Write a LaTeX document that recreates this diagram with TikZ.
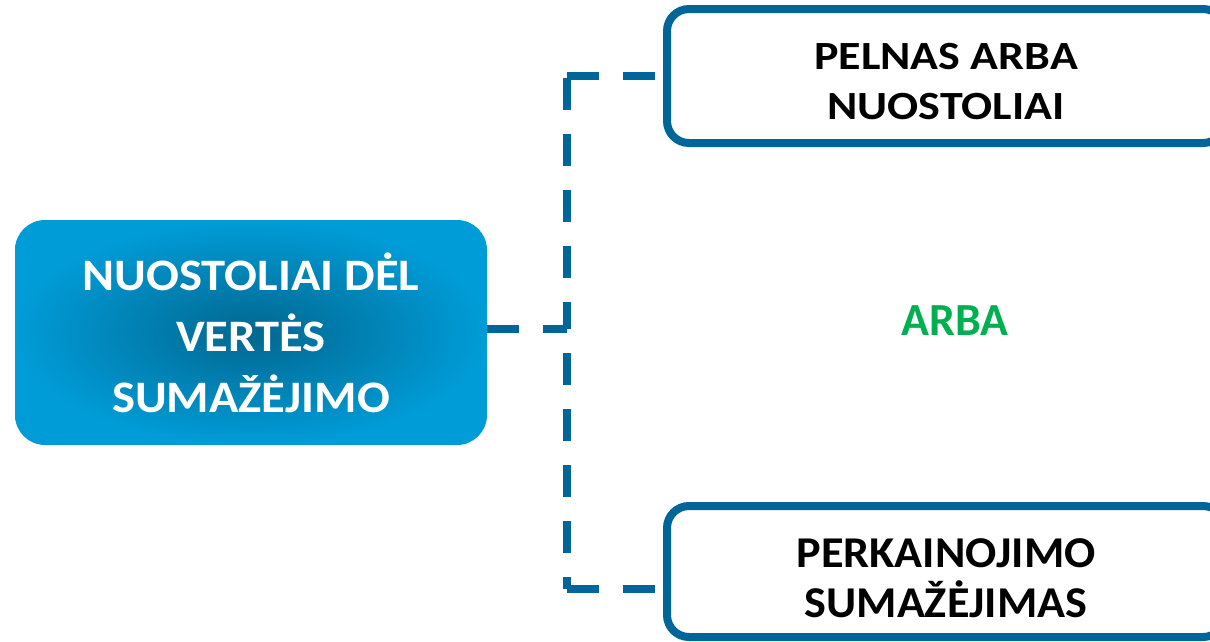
\documentclass[tikz,border=0pt]{standalone}
\usepackage{fontspec}
\setmainfont{Carlito}
\newfontfamily\fontA[FakeStretch=1.15]{Carlito}
\newfontfamily\fontB[FakeStretch=1.05]{Carlito}
\newfontfamily\fontC[FakeStretch=1.08]{Carlito}
\definecolor{connblue}{HTML}{006699}
\definecolor{boxdark}{HTML}{02678F}
\definecolor{boxlight}{HTML}{009CD8}
\definecolor{arbagreen}{HTML}{00B050}
\begin{document}
\begin{tikzpicture}[x=1pt,y=-1pt,
  conn/.style={draw=connblue, line width=8pt, dash pattern=on 32pt off 24pt},
  mainbox/.style={rectangle, rounded corners=30pt, minimum width=472pt, minimum height=225pt,
    inner color=boxdark, outer color=boxlight, text=white, align=center, inner sep=0pt,
    font=\fontC\fontsize{45}{61}\selectfont\bfseries},
  outbox/.style={rectangle, rounded corners=22pt, draw=connblue, line width=8pt, fill=white,
    align=center, inner sep=0pt, minimum width=558pt},
  orlabel/.style={text=arbagreen, font=\fontsize{46}{50}\selectfont\bfseries, inner sep=0pt}
]
\clip (0,0) rectangle (1210,641);
\useasboundingbox (0,0) rectangle (1210,641);

\node[mainbox] (L) at (251,332.5) {NUOSTOLIAI DĖL\\VERTĖS\\SUMAŽĖJIMO};
\node[outbox, minimum height=134pt, font=\fontA\fontsize{40}{50}\selectfont\bfseries] (T) at (946,76)
  {\rule{0pt}{38pt}PELNAS ARBA\\NUOSTOLIAI};
\node[outbox, minimum height=131pt, font=\fontB\fontsize{44}{50}\selectfont\bfseries] (B) at (946,571.5)
  {\rule{0pt}{42.5pt}PERKAINOJIMO\\SUMAŽĖJIMAS};
\node[orlabel, anchor=base] (O) at (955,335) {ARBA};

\coordinate (J) at (567,329);
\coordinate (Jb) at (567,589);

\draw[conn] (L.east |- J) -- (J);
\draw[conn, dash phase=5pt] (J) -- (J |- T.west);
\draw[conn] (J |- T.west) -- (T.west);
\draw[conn, dash phase=32pt] (J) -- (Jb);
\draw[conn] (Jb) -- (Jb -| B.west);
\end{tikzpicture}
\end{document}
